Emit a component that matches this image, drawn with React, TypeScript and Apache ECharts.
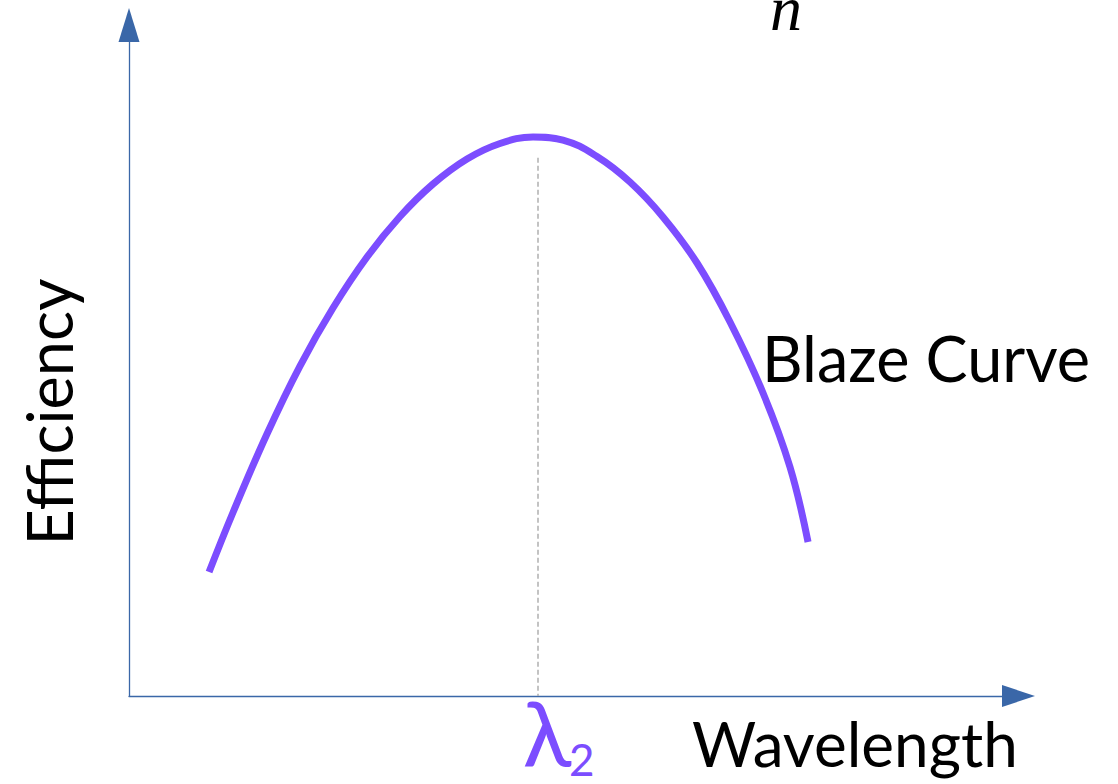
import React, { useEffect, useRef } from "react";
import * as echarts from "echarts";

// Blaze curve (x: wavelength units 0..100 along the axis, y: efficiency 0..100)
const wavelength = [9.0, 11.69, 15.51, 19.22, 22.93, 26.76, 30.47, 34.18, 38.0, 41.71, 45.42, 48.79, 52.61, 56.32, 60.03, 63.86, 67.57, 71.28, 74.31, 76.34];
const efficiency = [18.48, 27.35, 39.05, 49.18, 57.82, 65.42, 71.46, 76.3, 80.03, 82.34, 83.31, 82.86, 80.4, 76.6, 71.39, 64.53, 55.74, 45.16, 34.13, 22.95];

const lambda2 = 45.9; // blaze wavelength marker
const dashTop = 80.2; // top of the dashed guide

const axisColor = "#3a67a8";
const curveColor = "#7c4dff";
const font = "Lato";

export default function App() {
  const ref = useRef<HTMLDivElement>(null);

  useEffect(() => {
    if (!ref.current) return;
    const chart = echarts.init(ref.current, undefined, { renderer: "svg" });
    const data = wavelength.map((x, i) => [x, efficiency[i]]);
    chart.setOption({
      animation: false,
      backgroundColor: "#ffffff",
      grid: { left: 129, right: 99.5, top: 25, bottom: 88 },
      xAxis: {
        type: "value",
        min: 0,
        max: 100,
        axisLabel: { show: false },
        axisTick: { show: false },
        splitLine: { show: false },
        axisLine: {
          show: true,
          onZero: false,
          symbol: ["none", "triangle"],
          symbolSize: [22, 33],
          lineStyle: { color: axisColor, width: 1.3 },
        },
      },
      yAxis: {
        type: "value",
        min: 0,
        max: 100,
        axisLabel: { show: false },
        axisTick: { show: false },
        splitLine: { show: false },
        axisLine: {
          show: true,
          onZero: false,
          symbol: ["none", "triangle"],
          symbolSize: [21, 34],
          lineStyle: { color: axisColor, width: 1.3 },
        },
      },
      series: [
        {
          type: "line",
          data,
          smooth: 0.4,
          showSymbol: false,
          silent: true,
          lineStyle: { color: curveColor, width: 7, cap: "butt" },
          markLine: {
            silent: true,
            symbol: ["none", "none"],
            label: { show: false },
            lineStyle: { type: [5, 3], color: "#b0b0b0", width: 1.5 },
            data: [[{ coord: [lambda2, dashTop] }, { coord: [lambda2, 0] }]],
          },
        },
      ],
      graphic: [
        {
          type: "text",
          x: 762,
          y: 357,
          style: { text: "Blaze Curve", font: `63px ${font}`, fill: "#000", align: "left", verticalAlign: "middle" },
        },
        {
          type: "text",
          x: 692,
          y: 743,
          style: { text: "Wavelength", font: `62px ${font}`, fill: "#000", align: "left", verticalAlign: "middle" },
        },
        {
          type: "text",
          x: 48,
          y: 412,
          rotation: Math.PI / 2,
          style: { text: "Efficiency", font: `63px ${font}`, fill: "#000", align: "center", verticalAlign: "middle" },
        },
        {
          type: "text",
          x: 547,
          y: 731,
          style: { text: "λ", font: `90px ${font}`, fill: curveColor, align: "center", verticalAlign: "middle" },
        },
        {
          type: "text",
          x: 569,
          y: 759,
          style: { text: "2", font: `44px ${font}`, fill: curveColor, align: "left", verticalAlign: "middle" },
        },
        {
          type: "text",
          x: 786,
          y: 8,
          style: { text: "n", font: `italic 64px 'Liberation Serif'`, fill: "#000", align: "center", verticalAlign: "middle" },
        },
      ],
    });
    return () => chart.dispose();
  }, []);

  return <div ref={ref} style={{ position: "fixed", left: 0, top: 0, width: 1118, height: 784 }} />;
}
